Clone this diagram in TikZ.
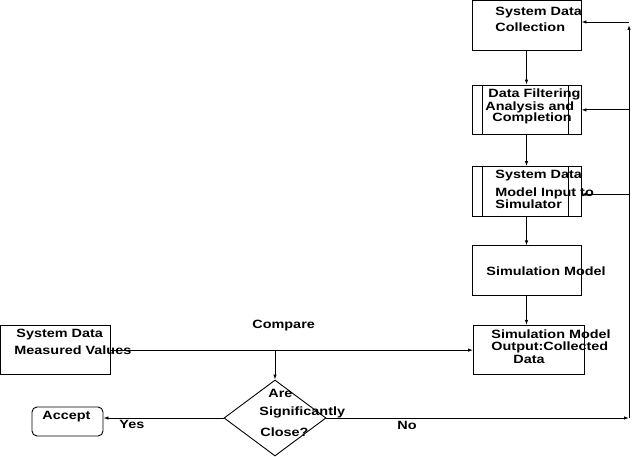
\documentclass[tikz,border=0pt]{standalone}
\usepackage{fontspec}
\setmainfont{Liberation Sans}
\newfontfamily\figfont[FakeStretch=1.2]{Liberation Sans}
\usetikzlibrary{shapes.geometric, arrows.meta, positioning}
\tikzset{
  box/.style={draw, rectangle, minimum width=109pt, minimum height=49.5pt, inner sep=0pt}, % plain process box
  subproc/.style={box, path picture={
      \draw ([xshift=10pt]path picture bounding box.north west) -- ([xshift=10pt]path picture bounding box.south west);
      \draw ([xshift=-13pt]path picture bounding box.north east) -- ([xshift=-13pt]path picture bounding box.south east);}},
  decision/.style={draw, diamond, minimum width=102pt, minimum height=76pt, inner sep=0pt},
  terminal/.style={draw, rectangle, rounded corners=5pt, minimum width=71pt, minimum height=29pt},
  flow/.style={-{Latex[length=5pt,width=3.5pt]}},
  txt/.style={font={\figfont\bfseries\fontsize{12}{12}\selectfont}, inner sep=0pt, align=left, anchor=north west}
}
\begin{document}
\begin{tikzpicture}[x=1pt, y=-1pt, line width=0.9pt]
        \useasboundingbox (0,0) rectangle (632,457);

        % Main column
        \node[box] (collect) at (526.5,25.5) {};
        \node[subproc] (filter) [below=34pt of collect] {};
        \node[subproc] (input) [below=31pt of filter] {};
        \node[box] (model) [below=29pt of input] {};
        \node[box, minimum width=111pt] (output) [below=29pt of model, xshift=2.5pt] {};

        % Measured values, decision and accept
        \node[box, minimum width=110pt] (measured) at (55.5,350) {};
        \node[decision] (close) at (275,418) {};
        \node[terminal] (accept) at (67.5,421.5) {};

        % Texts
        \node[txt] (collecttxt) at (495,6.2) {System Data\\[4pt]Collection};
        \node[txt] (filtertxt) at (485,88.2) {\hspace*{3pt}Data Filtering\\[1pt]Analysis and\\[-1pt]\hspace*{7pt}Completion};
        \node[txt] (inputtxt) at (495,169.2) {System Data\\[6pt]Model Input to\\Simulator};
        \node[txt] (modeltxt) at (486,266.2) {Simulation Model};
        \node[txt] (outputtxt) at (491,329.2) {Simulation Model\\Output:Collected\\[1pt]\hspace*{22pt}Data};
        \node[txt] (measuredtxt) at (14,328.2) {\hspace*{2pt}System Data\\[5pt]Measured Values};
        \node[txt] (comparetxt) at (252,319.2) {Compare};
        \node[txt] (closetxt) at (259,388.4) {\hspace*{9pt}Are\\[6pt]Significantly\\[9pt]\hspace*{1pt}Close?};
        \node[txt] (accepttxt) at (42,411.2) {Accept};
        \node[txt] (yestxt) at (119,420.2) {Yes};
        \node[txt] (notxt) at (397,421.2) {No};

        % Column flow
        \draw[flow] (collect) -- (filter);
        \draw[flow] (filter) -- (input);
        \draw[flow] (input) -- (model);
        \draw[flow] (model.south) -- (model.south |- output.north);

        % Comparison
        \coordinate (cmp) at (close.north |- output.west);
        \draw[flow] (measured.east |- output.west) -- (output.west);
        \draw[flow] (cmp) -- (close.north);
        \draw[flow] (close.west) -- (close.west -| accept.east);

        % Feedback
        \coordinate (fb) at (629,418);
        \coordinate (fbtop) at (629,25);
        \coordinate (collectin) at ([yshift=3.5pt]collect.east);
        \coordinate (inputin) at ([yshift=-3pt]input.east);
        \draw[flow] (close.east) -- (fb);
        \draw[flow] (fb) -- (fbtop);
        \draw[flow] (fbtop |- collectin) -- (collectin);
        \draw[flow] (fbtop |- filter.east) -- (filter.east);
        \draw[flow] (fbtop |- inputin) -- (inputin);
\end{tikzpicture}
\end{document}
